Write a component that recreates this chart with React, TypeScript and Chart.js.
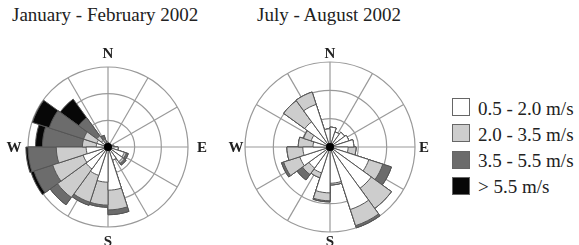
import React, { useEffect, useRef } from "react";
import { Chart, registerables } from "chart.js";

Chart.register(...registerables);

// 20 direction sectors of 18°, clockwise from north
const directions = [
  "0-18°", "18-36°", "36-54°", "54-72°", "72-90°",
  "90-108°", "108-126°", "126-144°", "144-162°", "162-180°",
  "180-198°", "198-216°", "216-234°", "234-252°", "252-270°",
  "270-288°", "288-306°", "306-324°", "324-342°", "342-360°",
];

const speedClasses = ["0.5 - 2.0 m/s", "2.0 - 3.5 m/s", "3.5 - 5.5 m/s", "> 5.5 m/s"];
const classColors = ["#ffffff", "#cdcdcd", "#6c6c6c", "#070707"];

// Frequency (%) per sector and speed class, January - February 2002
const janFebClass1 = [0.75, 0.6, 0.6, 0.6, 1.1, 1.9, 3.2, 3.4, 2.6, 8.1, 6.6, 5.6, 5.1, 4.9, 4.1, 2.2, 2.2, 1.5, 0.9, 0.9];
const janFebClass2 = [0, 0, 0, 0, 0, 0, 0.4, 0.4, 0, 3.7, 4.3, 5.3, 6.6, 6.0, 5.6, 2.6, 2.6, 1.1, 0.6, 0];
const janFebClass3 = [0, 0, 0, 0, 0, 0, 0.4, 0.4, 0, 0.9, 0.4, 0.6, 1.7, 3.7, 5.3, 7.5, 6.8, 4.2, 0.8, 0];
const janFebClass4 = [0, 0, 0, 0, 0, 0, 0, 0, 0, 0, 0, 0, 0, 0.6, 0.4, 1.3, 3.3, 4.3, 0, 0];

// Frequency (%) per sector and speed class, July - August 2002
const julAugClass1 = [3.5, 2.8, 3.2, 3.5, 4.2, 3.2, 7.2, 9.0, 11.6, 6.4, 8.1, 4.8, 4.6, 5.6, 4.8, 3.0, 3.5, 5.5, 7.9, 3.2];
const julAugClass2 = [0, 0, 0, 0, 0, 1.4, 2.6, 4.4, 3.0, 0.3, 1.4, 0.9, 1.4, 3.0, 2.8, 2.6, 1.4, 4.6, 2.3, 0];
const julAugClass3 = [0, 0, 0, 0, 0, 0, 1.6, 0, 0.4, 0, 0.2, 0, 1.2, 0.4, 0, 0, 0, 0, 0, 0];
const julAugClass4 = [0, 0, 0, 0, 0, 0, 0, 0, 0, 0, 0, 0, 0, 0, 0, 0, 0, 0, 0, 0];

const ringValues = [5, 10, 15];
const compassLabels = ["N", "E", "S", "W"];

const titles = ["January - February 2002", "July - August 2002"];

const serif = "'Liberation Serif', 'Times New Roman', serif";
const gridColor = "#999999";
const borderColor = "#555555";

function cumulative(classes: number[][]): number[][] {
  const out: number[][] = [];
  let running = classes[0].map(() => 0);
  for (const c of classes) {
    running = running.map((v, i) => +(v + c[i]).toFixed(3));
    out.push(running.slice());
  }
  return out;
}

const rosePlugin = {
  id: "roseDecor",
  beforeDatasetsDraw(chart: any) {
    const s = chart.scales.r;
    const ctx = chart.ctx;
    const cx = s.xCenter, cy = s.yCenter, R = s.drawingArea;
    ctx.save();
    ctx.strokeStyle = gridColor;
    ctx.lineWidth = 1.2;
    for (let k = 0; k < 12; k++) {
      const a = (k * Math.PI) / 6;
      ctx.beginPath();
      ctx.moveTo(cx, cy);
      ctx.lineTo(cx + R * Math.sin(a), cy - R * Math.cos(a));
      ctx.stroke();
    }
    ctx.restore();
  },
  afterDatasetsDraw(chart: any) {
    const s = chart.scales.r;
    const ctx = chart.ctx;
    const cx = s.xCenter, cy = s.yCenter;
    ctx.save();
    ctx.fillStyle = "#000";
    ctx.beginPath();
    ctx.arc(cx, cy, 4, 0, Math.PI * 2);
    ctx.fill();
    ctx.font = `bold 15px ${serif}`;
    ctx.textAlign = "center";
    ctx.textBaseline = "middle";
    ctx.fillStyle = "#222";
    const off = 94;
    compassLabels.forEach((lab, i) => {
      const a = (i * Math.PI) / 2;
      ctx.fillText(lab, cx + off * Math.sin(a), cy - off * Math.cos(a) + 1);
    });
    ctx.restore();
  },
};

function Rose(props: {
  classes: number[][];
  left: number;
  padding: { left: number; right: number; top: number; bottom: number };
}) {
  const ref = useRef<HTMLCanvasElement | null>(null);
  useEffect(() => {
    if (!ref.current) return;
    const cum = cumulative(props.classes);
    const chart = new Chart(ref.current, {
      type: "polarArea",
      data: {
        labels: directions,
        datasets: cum.map((vals, i) => ({
          label: speedClasses[i],
          data: vals,
          backgroundColor: classColors[i],
          borderColor: borderColor,
          borderWidth: 1,
        })),
      },
      options: {
        responsive: false,
        animation: false,
        events: [],
        layout: { padding: props.padding },
        plugins: {
          legend: { display: false },
          tooltip: { enabled: false },
          title: { display: false },
        },
        scales: {
          r: {
            min: 0,
            max: ringValues[ringValues.length - 1],
            startAngle: 0,
            ticks: { display: false, stepSize: ringValues[1] - ringValues[0] },
            grid: { color: gridColor, lineWidth: 1.2, circular: true },
            angleLines: { display: false },
            pointLabels: { display: false },
          },
        },
      } as any,
      plugins: [rosePlugin],
    });
    return () => chart.destroy();
  }, []);
  return (
    <canvas
      ref={ref}
      width={220}
      height={205}
      style={{ position: "absolute", left: props.left, top: 40, width: 220, height: 205 }}
    />
  );
}

export default function App() {
  return (
    <div
      style={{
        position: "absolute",
        left: 0,
        top: 0,
        width: 579,
        height: 245,
        background: "#fff",
        overflow: "hidden",
        fontFamily: serif,
        color: "#222",
      }}
    >
      <div style={{ position: "absolute", left: 12, top: 5, fontSize: 19, lineHeight: "19px", whiteSpace: "nowrap" }}>
        {titles[0]}
      </div>
      <div style={{ position: "absolute", left: 257, top: 5, fontSize: 19, lineHeight: "19px", whiteSpace: "nowrap" }}>
        {titles[1]}
      </div>
      <Rose
        classes={[janFebClass1, janFebClass2, janFebClass3, janFebClass4]}
        left={0}
        padding={{ left: 28, right: 32, top: 27, bottom: 18 }}
      />
      <Rose
        classes={[julAugClass1, julAugClass2, julAugClass3, julAugClass4]}
        left={220}
        padding={{ left: 25, right: 25, top: 22, bottom: 13 }}
      />
      {speedClasses.map((lab, i) => (
        <div key={lab} style={{ position: "absolute", left: 452, top: 98 + i * 26.3, height: 18, display: "flex", alignItems: "center", whiteSpace: "nowrap" }}>
          <div
            style={{
              width: 16,
              height: 16,
              border: "1.5px solid #666",
              background: classColors[i],
              boxSizing: "content-box",
            }}
          />
          <span style={{ marginLeft: 8, fontSize: 19, lineHeight: "19px", position: "relative", top: 1 }}>{lab}</span>
        </div>
      ))}
    </div>
  );
}
